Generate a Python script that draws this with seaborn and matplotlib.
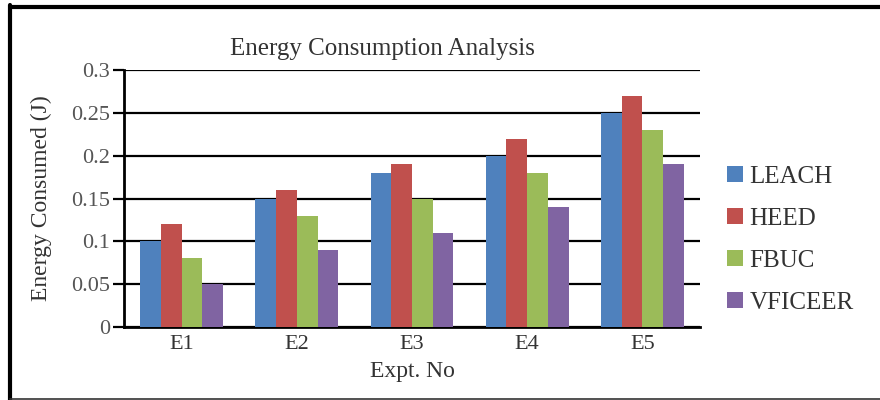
import matplotlib
matplotlib.use("Agg")
import matplotlib.pyplot as plt
from matplotlib.lines import Line2D
import seaborn as sns
import pandas as pd

experiments = ["E1", "E2", "E3", "E4", "E5"]
protocols = ["LEACH", "HEED", "FBUC", "VFICEER"]
leach = [0.10, 0.15, 0.18, 0.20, 0.25]
heed = [0.12, 0.16, 0.19, 0.22, 0.27]
fbuc = [0.08, 0.13, 0.15, 0.18, 0.23]
vficeer = [0.05, 0.09, 0.11, 0.14, 0.19]
yticks = [0, 0.05, 0.1, 0.15, 0.2, 0.25, 0.3]
ytick_labels = ["0", "0.05", "0.1", "0.15", "0.2", "0.25", "0.3"]

colors = ["#4F81BD", "#C0504D", "#9BBB59", "#8064A2"]
serif = ["Liberation Serif", "DejaVu Serif"]

rows = []
for name, vals in zip(protocols, [leach, heed, fbuc, vficeer]):
    for exp, v in zip(experiments, vals):
        rows.append({"Expt": exp, "Protocol": name, "Energy": v})
df = pd.DataFrame(rows)

sns.set_style("white")
plt.rcParams["font.family"] = serif
plt.rcParams["text.color"] = "#333333"

fig = plt.figure(figsize=(8.8, 4.0), dpi=100)
ax = fig.add_axes([124 / 880, 73 / 400, 576 / 880, 257 / 400])

sns.barplot(data=df, x="Expt", y="Energy", hue="Protocol", hue_order=protocols,
            palette=colors, width=0.72, gap=0, saturation=1, ax=ax,
            edgecolor="none", linewidth=0, zorder=3)

ax.set_ylim(0, 0.3)
ax.set_yticks(yticks)
ax.set_yticklabels(ytick_labels)
ax.yaxis.grid(True, color="black", linewidth=1.6, zorder=0)
ax.set_axisbelow(True)
ax.tick_params(axis="y", length=8, width=1.6, color="black", direction="out",
               labelsize=16, labelcolor="#555555", pad=2, left=True)
ax.tick_params(axis="x", length=0, labelsize=16, labelcolor="#333333", pad=6)

for side in ["top", "right"]:
    ax.spines[side].set_visible(False)
ax.spines["left"].set_color("black")
ax.spines["left"].set_linewidth(2)
ax.spines["bottom"].set_color("black")
ax.spines["bottom"].set_linewidth(2)

ax.set_xlabel("Expt. No", fontsize=17, color="#333333", labelpad=5)
ax.set_ylabel("Energy Consumed (J)", fontsize=17, color="#333333")
ax.yaxis.set_label_coords(-0.125, 0.5)
ax.set_title("Energy Consumption Analysis", fontsize=18, color="#333333", pad=11,
             x=0.448)

leg = ax.legend(loc="center left", bbox_to_anchor=(1.047, 0.339), frameon=False,
                prop={"family": serif, "size": 18},
                handlelength=0.65, handleheight=0.6,
                handletextpad=0.25, labelspacing=0.8, borderaxespad=0,
                borderpad=0)
for t in leg.get_texts():
    t.set_color("#333333")

# page frame around the figure
fig.add_artist(Line2D([10 / 880, 1], [1 - 7 / 400, 1 - 7 / 400], color="black",
                      linewidth=3, transform=fig.transFigure))
fig.add_artist(Line2D([10 / 880, 10 / 880], [0, 1 - 5 / 400], color="black",
                      linewidth=3, transform=fig.transFigure))
fig.add_artist(Line2D([10 / 880, 1], [1 / 400, 1 / 400], color="#333333",
                      linewidth=1.2, transform=fig.transFigure))

fig.savefig("out.png", dpi=100)
